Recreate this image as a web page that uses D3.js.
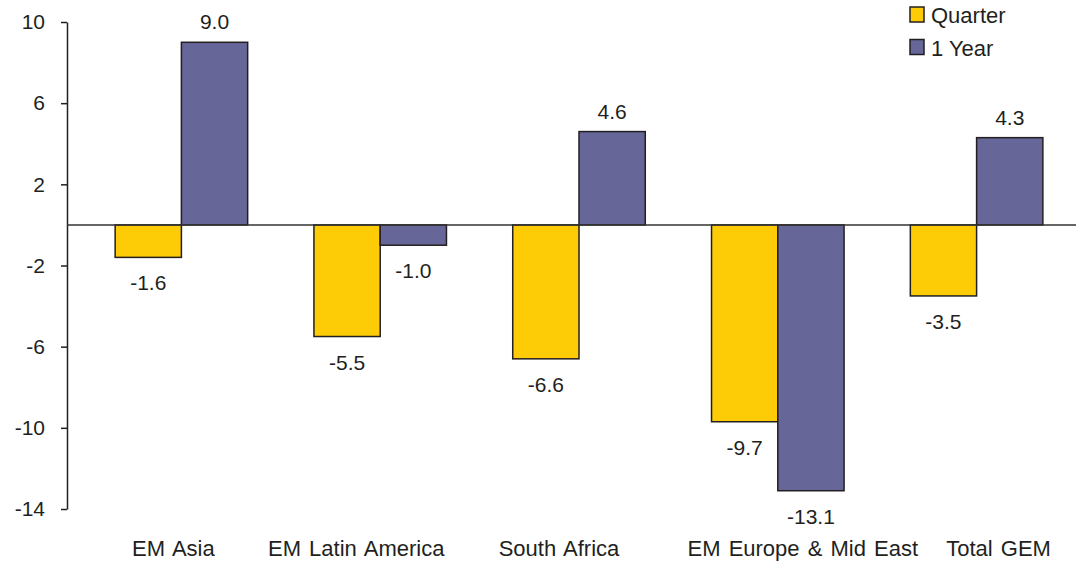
<!DOCTYPE html>
<html>
<head>
<meta charset="utf-8">
<script src="https://cdn.jsdelivr.net/npm/d3@7"></script>
<style>
  body { margin: 0; background: #fff; }
  text { font-family: "Liberation Sans", Arial, sans-serif; fill: #231f20; }
</style>
</head>
<body>
<div id="vis"></div>
<script>
var width = 1076,
    height = 563;

// data
var categories = ["EM Asia", "EM Latin America", "South Africa", "EM Europe & Mid East", "Total GEM"];
var seriesNames = ["Quarter", "1 Year"];
var quarter = [-1.6, -5.5, -6.6, -9.7, -3.5];
var oneYear = [9.0, -1.0, 4.6, -13.1, 4.3];
var yTicks = [10, 6, 2, -2, -6, -10, -14];

var colors = ["#fdcc07", "#666699"];
// category labels sit a little off-centre in the original
var labelNudge = [-8, -24, -20, 25, 22];

var rows = categories.map(function(c, i) {
    return { cat: c, values: [quarter[i], oneYear[i]] };
});

var svg = d3.select("#vis").append("svg")
    .attr("width", width)
    .attr("height", height);

var x = d3.scaleBand()
    .domain(categories)
    .range([82, 1076])
    .paddingInner(1/3)
    .paddingOuter(1/6);

var x1 = d3.scaleBand()
    .domain(d3.range(2))
    .range([0, x.bandwidth()]);

var y = d3.scaleLinear()
    .domain([-14, 10])
    .range([509, 22]);

// y axis
var yAxis = svg.append("g")
    .attr("transform", "translate(67,0)")
    .call(d3.axisLeft(y)
        .tickValues(yTicks)
        .tickFormat(function(d) { return String(d); })
        .tickSize(6).tickSizeOuter(0).tickPadding(16));
yAxis.select(".domain").attr("stroke", "#231f20").attr("stroke-width", 1.5);
yAxis.selectAll(".tick line").attr("stroke", "#231f20").attr("stroke-width", 1.5);
yAxis.selectAll(".tick text")
    .style("font-size", "21px")
    .attr("fill", "#231f20")
    .style("font-family", "'Liberation Sans', Arial, sans-serif");

// bars
var groups = svg.selectAll(".grp")
    .data(rows)
    .enter()
    .append("g")
    .attr("class", "grp")
    .attr("transform", function(d) { return "translate(" + x(d.cat) + ",0)"; });

groups.selectAll("rect")
    .data(function(d) { return d.values; })
    .enter()
    .append("rect")
    .attr("x", function(d, i) { return x1(i); })
    .attr("y", function(d) { return y(Math.max(0, d)); })
    .attr("width", x1.bandwidth())
    .attr("height", function(d) { return Math.abs(y(d) - y(0)); })
    .attr("fill", function(d, i) { return colors[i]; })
    .attr("stroke", "#231f20")
    .attr("stroke-width", 1.5);

// zero line
svg.append("line")
    .attr("x1", 67)
    .attr("x2", width)
    .attr("y1", y(0))
    .attr("y2", y(0))
    .attr("stroke", "#333")
    .attr("stroke-width", 1.5);

// value labels
groups.selectAll(".val")
    .data(function(d) { return d.values; })
    .enter()
    .append("text")
    .attr("class", "val")
    .attr("x", function(d, i) { return x1(i) + x1.bandwidth() / 2; })
    .attr("y", function(d) { return d >= 0 ? y(d) - 13 : y(d) + 33; })
    .attr("text-anchor", "middle")
    .style("font-size", "21px")
    .text(function(d) { return d.toFixed(1); });

// category labels
svg.selectAll(".cat")
    .data(categories)
    .enter()
    .append("text")
    .attr("class", "cat")
    .attr("x", function(d, i) { return x(d) + x.bandwidth() / 2 + labelNudge[i]; })
    .attr("y", 556)
    .attr("text-anchor", "middle")
    .style("font-size", "22px")
    .style("word-spacing", "2px")
    .text(function(d) { return d; });

// legend
var legend = svg.append("g").attr("transform", "translate(910,7)");
var legenditem = legend.selectAll(".legenditem")
    .data(seriesNames)
    .enter()
    .append("g")
    .attr("class", "legenditem")
    .attr("transform", function(d, i) { return "translate(0," + i * 32.5 + ")"; });

legenditem.append("rect")
    .attr("width", 14)
    .attr("height", 15)
    .attr("fill", function(d, i) { return colors[i]; })
    .attr("stroke", "#231f20")
    .attr("stroke-width", 1.5);

legenditem.append("text")
    .attr("x", 21)
    .attr("y", 16)
    .style("font-size", "22px")
    .text(function(d) { return d; });
</script>
</body>
</html>
